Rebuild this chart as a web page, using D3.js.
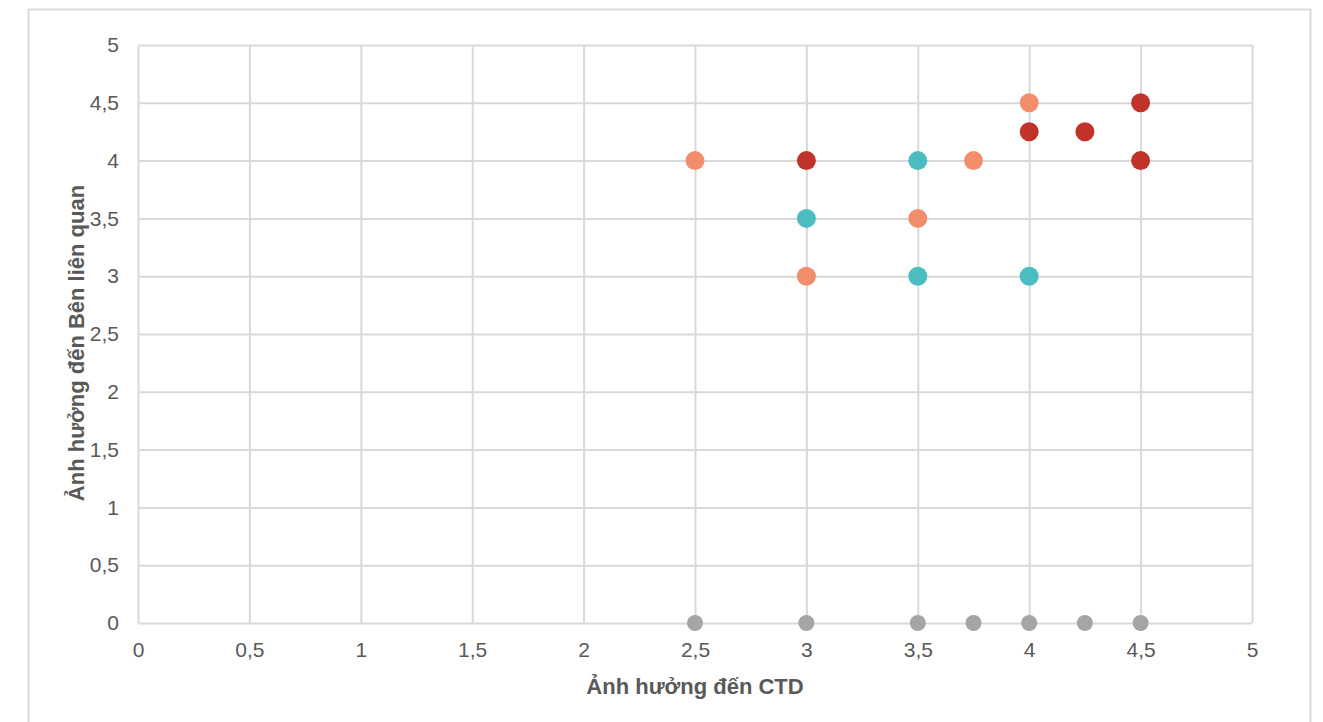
<!DOCTYPE html>
<html>
<head>
<meta charset="utf-8">
<script src="https://cdn.jsdelivr.net/npm/d3@7"></script>
<style>
  body { margin: 0; background: #fff; }
  svg { display: block; font-family: "Liberation Sans", Arial, sans-serif; }
</style>
</head>
<body>
<div id="chart"></div>
<script>
  // Data
  let xTicks = [0, 0.5, 1, 1.5, 2, 2.5, 3, 3.5, 4, 4.5, 5];
  let yTicks = [0, 0.5, 1, 1.5, 2, 2.5, 3, 3.5, 4, 4.5, 5];

  let redX = [3, 4, 4.25, 4.5, 4.5];
  let redY = [4, 4.25, 4.25, 4.5, 4];

  let salmonX = [2.5, 3, 3.5, 3.75, 4];
  let salmonY = [4, 3, 3.5, 4, 4.5];

  let tealX = [3, 3.5, 3.5, 4];
  let tealY = [3.5, 4, 3, 3];

  let grayX = [2.5, 3, 3.5, 3.75, 4, 4.25, 4.5];
  let grayY = [0, 0, 0, 0, 0, 0, 0];

  let xTitle = "Ảnh hưởng đến CTD";
  let yTitle = "Ảnh hưởng đến Bên liên quan";

  //Dimensions
  let width = 1323, height = 722;
  let margin = {top: 45, right: 71, bottom: 99, left: 138};
  let plotW = width - margin.left - margin.right;
  let plotH = height - margin.top - margin.bottom;

  let svg = d3.select("#chart").append("svg")
    .attr("width", width)
    .attr("height", height);

  //Outer chart border
  svg.append("rect")
    .attr("x", 28.5).attr("y", 9.5)
    .attr("width", 1282).attr("height", 730)
    .attr("fill", "none")
    .attr("stroke", "#d9d9d9")
    .attr("stroke-width", 2);

  let g = svg.append("g")
    .attr("transform", "translate(" + margin.left + "," + margin.top + ")");

  let x = d3.scaleLinear().domain([0, 5]).range([0, plotW]);
  let y = d3.scaleLinear().domain([0, 5]).range([plotH, 0]);
  let fmt = function(d) { return String(d).replace(".", ","); };

  //Gridlines
  g.append("g")
    .call(d3.axisLeft(y).tickValues(yTicks).tickSize(-plotW).tickFormat(""))
    .call(function(s) { s.select(".domain").remove(); })
    .selectAll("line").attr("stroke", "#d9d9d9").attr("stroke-width", 2);

  g.append("g")
    .attr("transform", "translate(0," + plotH + ")")
    .call(d3.axisBottom(x).tickValues(xTicks).tickSize(-plotH).tickFormat(""))
    .call(function(s) { s.select(".domain").remove(); })
    .selectAll("line").attr("stroke", "#d9d9d9").attr("stroke-width", 2);

  //Tick labels
  let yAxis = g.append("g")
    .call(d3.axisLeft(y).tickValues(yTicks).tickSize(0).tickPadding(19).tickFormat(fmt));
  yAxis.select(".domain").remove();
  yAxis.selectAll("text").attr("fill", "#595959").style("font-size", "21px");

  let xAxis = g.append("g")
    .attr("transform", "translate(0," + plotH + ")")
    .call(d3.axisBottom(x).tickValues(xTicks).tickSize(0).tickPadding(19).tickFormat(fmt));
  xAxis.select(".domain").remove();
  xAxis.selectAll("text").attr("fill", "#595959").style("font-size", "21px");

  //Series
  let series = [
    {xs: grayX, ys: grayY, color: "#a5a5a5", r: 8},
    {xs: salmonX, ys: salmonY, color: "#f28e6b", r: 9.5},
    {xs: tealX, ys: tealY, color: "#4bbdc1", r: 9.5},
    {xs: redX, ys: redY, color: "#c0322a", r: 9.5}
  ];

  series.forEach(function(s) {
    g.append("g").selectAll("circle")
      .data(d3.range(s.xs.length))
      .enter()
      .append("circle")
        .attr("cx", function(i) { return x(s.xs[i]); })
        .attr("cy", function(i) { return y(s.ys[i]); })
        .attr("r", s.r)
        .attr("fill", s.color);
  });

  //Axis titles
  svg.append("text")
    .attr("x", margin.left + plotW / 2)
    .attr("y", 694)
    .attr("text-anchor", "middle")
    .attr("fill", "#595959")
    .style("font-size", "22px")
    .style("font-weight", "bold")
    .text(xTitle);

  svg.append("text")
    .attr("transform", "translate(84,343) rotate(-90)")
    .attr("text-anchor", "middle")
    .attr("fill", "#595959")
    .style("font-size", "22px")
    .style("font-weight", "bold")
    .text(yTitle);
</script>
</body>
</html>
